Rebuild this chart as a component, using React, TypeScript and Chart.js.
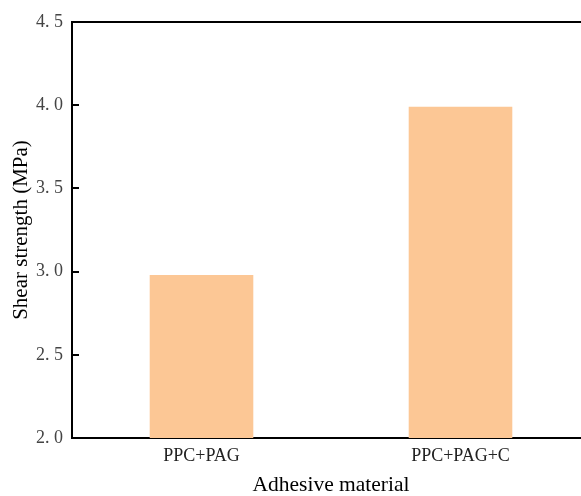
import React, { useEffect, useRef } from "react";
import { Chart, registerables } from "chart.js";

Chart.register(...registerables);

const categories = ["PPC+PAG", "PPC+PAG+C"];
const shearStrength = [2.98, 3.99];
const yTickValues = [2.0, 2.5, 3.0, 3.5, 4.0, 4.5];

const frame = {
  id: "frame",
  afterDraw(chart: any) {
    const { ctx, chartArea, scales } = chart;
    ctx.save();
    ctx.strokeStyle = "#000";
    ctx.lineWidth = 2;
    ctx.beginPath();
    ctx.moveTo(chartArea.left - 1, chartArea.top);
    ctx.lineTo(chartArea.right + 1, chartArea.top);
    ctx.stroke();
    const y = scales.y;
    for (const v of yTickValues) {
      const py = Math.round(y.getPixelForValue(v));
      ctx.beginPath();
      ctx.moveTo(chartArea.left, py);
      ctx.lineTo(chartArea.left + 7, py);
      ctx.stroke();
    }
    ctx.restore();
  },
};

export default function App() {
  const ref = useRef<HTMLCanvasElement>(null);
  useEffect(() => {
    if (!ref.current) return;
    const chart = new Chart(ref.current, {
      type: "bar",
      data: {
        labels: categories,
        datasets: [
          {
            data: shearStrength,
            backgroundColor: "#FCC795",
            borderWidth: 0,
            categoryPercentage: 1,
            barPercentage: 0.4,
          },
        ],
      },
      options: {
        responsive: false,
        animation: false,
        layout: { padding: { top: 22, right: 10, left: 0, bottom: 0 } },
        plugins: { legend: { display: false }, tooltip: { enabled: false } },
        scales: {
          x: {
            afterFit: (s: any) => {
              s.height = 58;
            },
            grid: { display: true, drawOnChartArea: false, drawTicks: false },
            border: { display: true, color: "#000", width: 2 },
            ticks: {
              color: "#222",
              padding: 7,
              font: { family: "Liberation Serif", size: 18 },
            },
            title: {
              display: true,
              text: "Adhesive material",
              color: "#000",
              padding: { top: 0, bottom: 0 },
              font: { family: "Liberation Serif", size: 21.5, lineHeight: 1 },
            },
          },
          y: {
            min: 2.0,
            max: 4.5,
            afterFit: (s: any) => {
              s.width = 72;
            },
            afterBuildTicks: (s: any) => {
              s.ticks = yTickValues.map((v) => ({ value: v }));
            },
            grid: { display: true, drawOnChartArea: false, drawTicks: false },
            border: { display: true, color: "#000", width: 2 },
            ticks: {
              color: "#444",
              padding: 9,
              font: { family: "Liberation Serif", size: 18 },
              callback: (v: any) => Number(v).toFixed(1).replace(".", ". "),
            },
            title: {
              display: true,
              text: "Shear strength (MPa)",
              color: "#000",
              padding: { top: 11, bottom: 0 },
              font: { family: "Liberation Serif", size: 21, lineHeight: 1 },
            },
          },
        },
      },
      plugins: [frame],
    });
    return () => chart.destroy();
  }, []);
  return (
    <div
      style={{
        position: "absolute",
        left: 0,
        top: 0,
        width: 581,
        height: 496,
        overflow: "hidden",
        background: "#fff",
      }}
    >
      <canvas ref={ref} width={600} height={496} style={{ display: "block" }} />
    </div>
  );
}
